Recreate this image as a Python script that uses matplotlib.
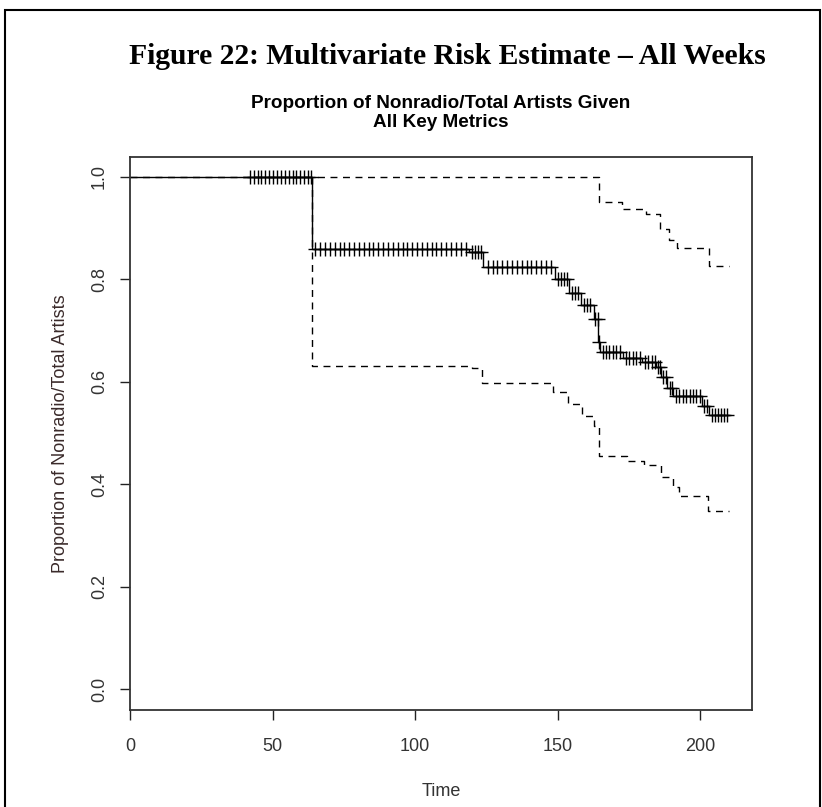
import numpy as np
import matplotlib
matplotlib.use("Agg")
import matplotlib.pyplot as plt
from matplotlib.patches import Rectangle

# Kaplan-Meier estimate: event times and survival after each event
event_time = [64, 119, 124, 149, 154, 158.2, 162.6, 164.3, 164.8, 173, 179.5,
              184.5, 186.2, 188.5, 190.5, 200.5, 203]
event_surv = [0.860, 0.853, 0.824, 0.800, 0.774, 0.750, 0.723, 0.678, 0.658,
              0.647, 0.639, 0.629, 0.610, 0.587, 0.572, 0.553, 0.535]

# censoring times (drawn as + on the curve)
censor_time = [42, 43.4, 44.8, 46.1, 47.5, 48.9, 50.2, 51.6, 53, 54.3, 55.7,
               57.1, 58.4, 59.8, 61.2, 62.5, 63.5,
               65, 66.7, 68.4, 70.1, 71.8, 73.5, 75.2, 76.9, 78.6, 80.3, 82,
               83.7, 85.4, 87.1, 88.8, 90.5, 92.2, 93.9, 95.6, 97.3, 99,
               100.7, 102.4, 104.1, 105.8, 107.5, 109.2, 110.9, 112.6, 114.3,
               116, 117.7,
               119.8, 120.9, 122, 123.1,
               125.5, 127.2, 128.9, 130.6, 132.3, 134, 135.7, 137.4, 139.1,
               140.8, 142.5, 144.2, 145.9, 147.6,
               150, 151.2, 152.4, 153.4,
               155, 156, 157.1,
               159.2, 160.3, 161.5,
               163.2, 164.1, 164.5,
               165.8, 167, 168.2, 169.4, 170.6, 171.8,
               174, 175.2, 176.4, 177.6, 178.8,
               180.6, 181.8, 183, 184,
               185.2, 186, 187, 188, 189.4, 190.2,
               191.5, 192.7, 193.9, 195.1, 196.3, 197.5, 198.7, 199.9,
               201.3, 202.3,
               204, 205.1, 206.2, 207.3, 208.4, 209.5]

# 95% confidence band (step values)
upper_time = [0, 164.7, 172.5, 181, 186, 189, 192, 203, 210]
upper_val = [1.0, 0.952, 0.938, 0.928, 0.898, 0.877, 0.862, 0.826, 0.826]
lower_time = [64, 120, 123.4, 148.5, 153.8, 158.5, 162.8, 164.6, 174.5, 180.4,
              186.2, 190.6, 192.7, 202.9, 210]
lower_val = [0.631, 0.626, 0.597, 0.580, 0.556, 0.533, 0.514, 0.456, 0.446,
             0.4375, 0.415, 0.395, 0.377, 0.348, 0.348]

end_time = 210

fig = plt.figure(figsize=(8.22, 8.07), dpi=100)
ax = fig.add_axes([130 / 822, 1 - 710 / 807, 622 / 822, 553 / 807])

# survival curve as a right-continuous step function
km_t = [0] + event_time + [end_time]
km_s = [1.0] + event_surv + [event_surv[-1]]
ax.step(km_t, km_s, where="post", color="black", lw=1.0)

idx = np.searchsorted(event_time, censor_time, side="right")
cs = np.array([1.0] + event_surv)[idx]
ax.plot(censor_time, cs, ls="none", marker="+", ms=10, mew=1.0, color="black")

# confidence limits
ax.step(upper_time, upper_val, where="post", color="black", lw=1.0,
        ls=(0, (5, 4)))
ax.step([64] + lower_time, [1.0] + lower_val, where="post", color="black",
        lw=1.0, ls=(0, (5, 4)))

ax.set_xlim(0, 218.2)
ax.set_ylim(-0.041, 1.039)
ax.set_xticks([0, 50, 100, 150, 200])
ax.set_yticks([0.0, 0.2, 0.4, 0.6, 0.8, 1.0])
ax.set_yticklabels(["0.0", "0.2", "0.4", "0.6", "0.8", "1.0"], rotation=90,
                   va="center")
ax.tick_params(direction="out", length=7, width=1, color="#222",
               labelsize=13, labelcolor="#333", pad=9)
ax.tick_params(axis="x", pad=13)
for s in ax.spines.values():
    s.set_linewidth(1.3)
    s.set_color("#333")

ax.set_xlabel("Time", fontsize=13, color="#333", family="Liberation Sans",
              labelpad=20)
ax.set_ylabel("Proportion of Nonradio/Total Artists", fontsize=13,
              color="#3a2a2a", family="Liberation Sans", labelpad=16)
for lab in ax.get_xticklabels() + ax.get_yticklabels():
    lab.set_family("Liberation Sans")

fig.text(441 / 822, 1 - 113 / 807,
         "Proportion of Nonradio/Total Artists Given\nAll Key Metrics",
         ha="center", va="center", fontsize=13.6, fontweight="bold",
         family="Liberation Sans", linespacing=1.1)
fig.text(447 / 822, 1 - 57 / 807,
         "Figure 22: Multivariate Risk Estimate \u2013 All Weeks",
         ha="center", va="center", fontsize=21.3, fontweight="bold",
         family="Liberation Serif")

# outer frame
fig.patches.append(Rectangle((5 / 822, -0.02), 815 / 822, 1 - 10 / 807 + 0.02,
                             transform=fig.transFigure, fill=False,
                             lw=1.5, ec="black"))

fig.savefig("out.png", dpi=100)
